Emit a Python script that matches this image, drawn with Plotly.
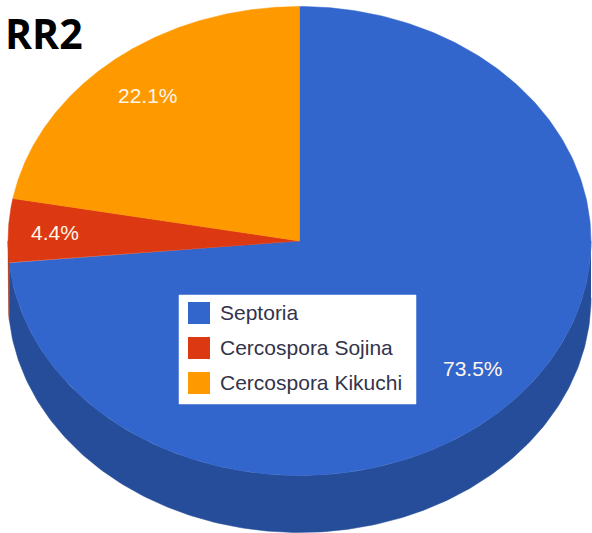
import numpy as np
import plotly.graph_objects as go

categories = ["Septoria", "Cercospora Sojina", "Cercospora Kikuchi"]
percent_values = [73.5, 4.4, 22.1]
percent_labels = ["73.5%", "4.4%", "22.1%"]
title_text = "RR2"

top_colors = ["#3366cc", "#dc3912", "#ff9900"]
side_colors = ["#264d99", "#a52a0d", "#bf7300"]

CX, CY, RX, RY, DEPTH = 299.5, 241.0, 291.5, 234.5, 57.0


def ell(deg, dy=0.0):
    t = np.radians(deg)
    return CX + RX * np.sin(t), CY - RY * np.cos(t) + dy


edges = np.concatenate([[0.0], np.cumsum(percent_values)]) / sum(percent_values) * 360.0
fig = go.Figure()


def poly(xs, ys, color):
    fig.add_trace(go.Scatter(x=xs, y=ys, mode="lines", fill="toself", fillcolor=color,
                             line=dict(width=0.5, color=color), hoverinfo="skip",
                             showlegend=False))


# side wall: only the front half (90..270 degrees clockwise from the top) is visible
for i in range(len(categories)):
    a, b = max(edges[i], 90.0), min(edges[i + 1], 270.0)
    if b <= a:
        continue
    th = np.linspace(a, b, 200)
    x1, y1 = ell(th)
    x2, y2 = ell(th[::-1], DEPTH)
    poly(np.r_[x1, x2], np.r_[y1, y2], side_colors[i])

# top face
for i in range(len(categories)):
    th = np.linspace(edges[i], edges[i + 1], 300)
    x, y = ell(th)
    poly(np.r_[CX, x, CX], np.r_[CY, y, CY], top_colors[i])

# percentage labels, placed on each slice's mid angle
radial = [0.805, 0.84, 0.81]
for i, txt in enumerate(percent_labels):
    mid = (edges[i] + edges[i + 1]) / 2
    t = np.radians(mid)
    fig.add_annotation(x=CX + RX * radial[i] * np.sin(t), y=CY - RY * radial[i] * np.cos(t),
                       text=txt, showarrow=False, xanchor="center", yanchor="middle",
                       font=dict(family="Liberation Sans, Arial", size=21, color="#fff6ea"))

# legend: white box, swatches, real text
poly([179, 416, 416, 179, 179], [295, 295, 404, 404, 295], "white")
fig.add_trace(go.Scatter(x=[199] * 3, y=[313, 348, 383], mode="markers",
                         marker=dict(symbol="square", size=22, color=top_colors, line=dict(width=0)),
                         hoverinfo="skip", showlegend=False))
for y, name in zip([312.5, 347.5, 382], categories):
    fig.add_annotation(x=217.5, y=y, text=name, showarrow=False, xanchor="left", yanchor="middle",
                       font=dict(family="Liberation Sans, Arial", size=21, color="#33334a"))

fig.add_annotation(x=3, y=33, text="<b>%s</b>" % title_text, showarrow=False, xanchor="left",
                   yanchor="middle", font=dict(family="Open Sans", size=41, color="black"))

fig.update_layout(width=592, height=533, margin=dict(l=0, r=0, t=0, b=0),
                  paper_bgcolor="white", plot_bgcolor="white", showlegend=False,
                  xaxis=dict(range=[0, 592], visible=False, fixedrange=True),
                  yaxis=dict(range=[533, 0], visible=False, fixedrange=True))
fig.write_html("out.html", config={"displayModeBar": False},
               post_script="document.body.style.margin='0';document.body.style.overflow='hidden';")
